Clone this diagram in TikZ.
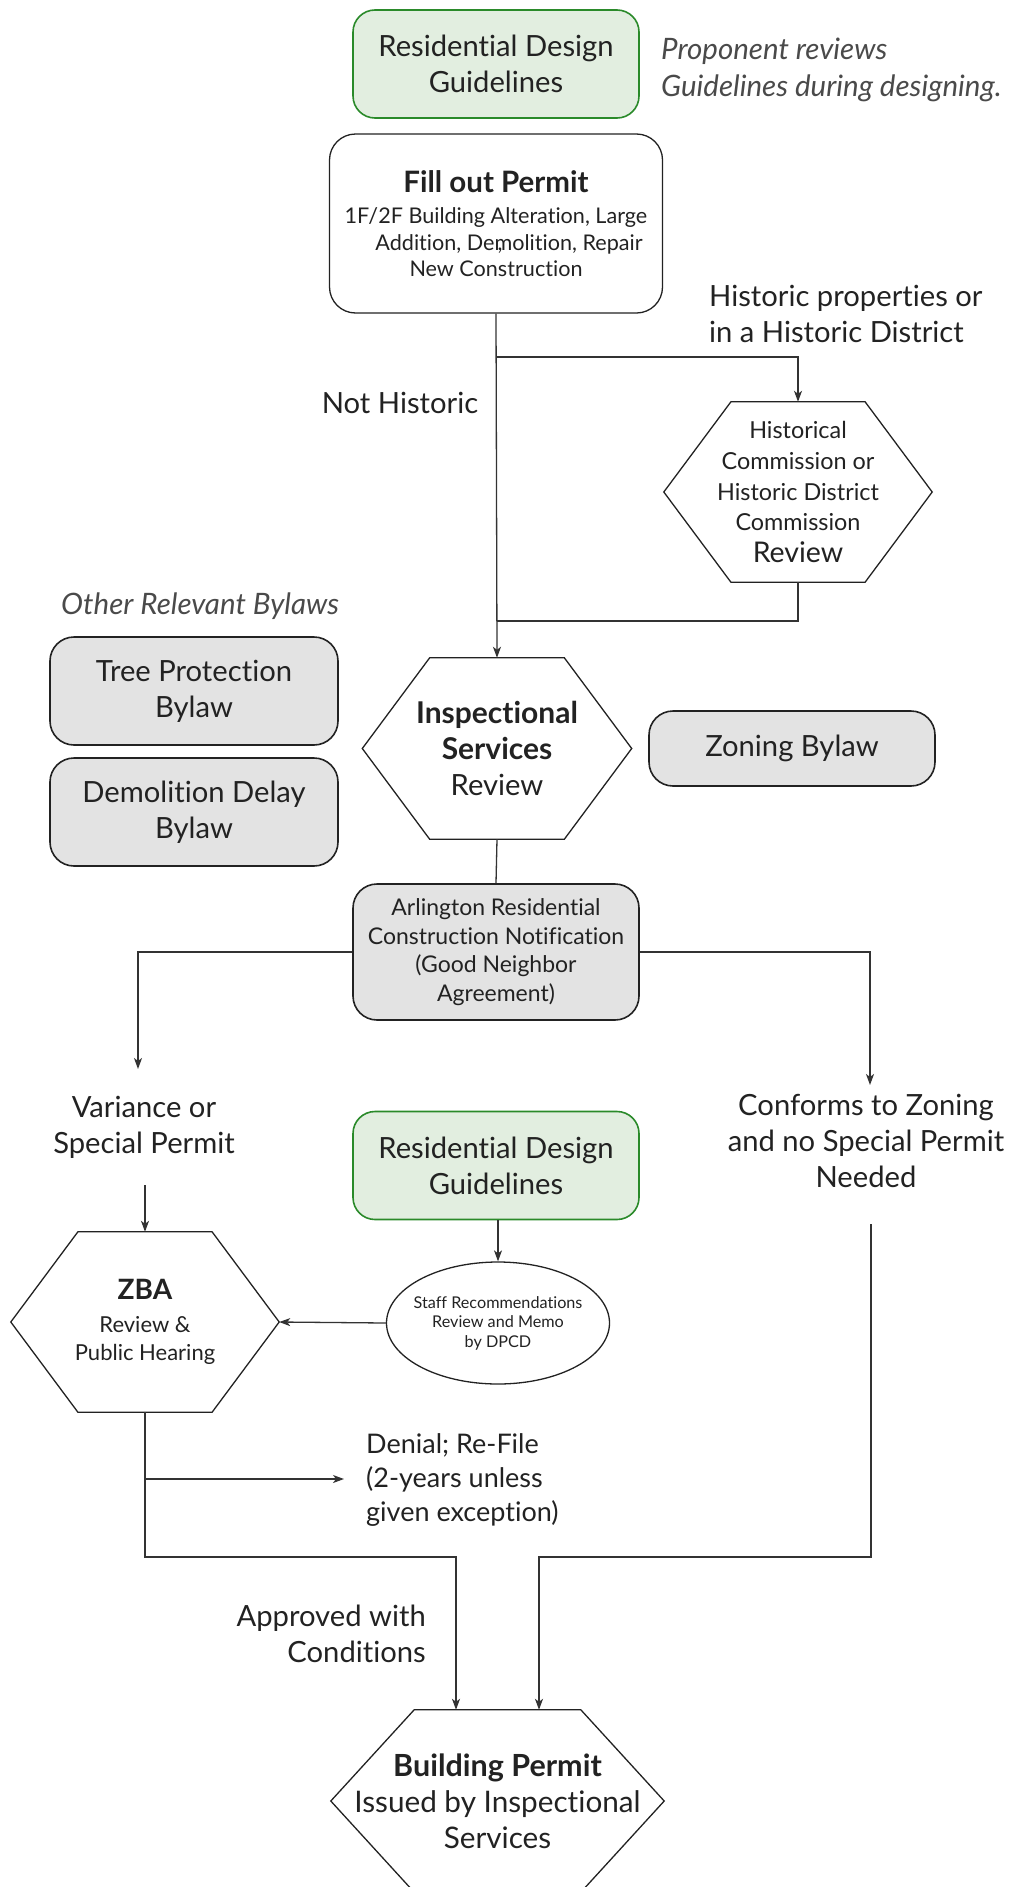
\documentclass[tikz,border=0pt]{standalone}
\usepackage{fontspec}
\setmainfont{Lato}[Ligatures=NoCommon]
\usetikzlibrary{arrows.meta,shapes.geometric,calc}
\definecolor{ink}{HTML}{222222}
\definecolor{linec}{HTML}{333333}
\definecolor{notec}{HTML}{4A4A4A}
\definecolor{gfill}{HTML}{E2EEE0}
\definecolor{gdraw}{HTML}{2A8A2A}
\definecolor{boxgray}{HTML}{E3E3E3}
\newcommand{\fbig}{\fontsize{29.2}{36}\selectfont}
\newcommand{\fmed}{\fontsize{21.6}{26.5}\selectfont}
\newcommand{\hexframe}[1]{\draw[hexline] (#1.west) -- ($(#1.north west)!0.25!(#1.north east)$) -- ($(#1.north west)!0.75!(#1.north east)$) -- (#1.east) -- ($(#1.south west)!0.75!(#1.south east)$) -- ($(#1.south west)!0.25!(#1.south east)$) -- cycle;}
\tikzset{
  every node/.style={text=ink, align=center, inner sep=0pt},
  greenbox/.style={draw=gdraw, fill=gfill, line width=1.6pt, rounded corners=22pt, minimum width=286pt, minimum height=108pt, font=\fbig},
  graybox/.style={draw=ink, fill=boxgray, line width=1.6pt, rounded corners=24pt},
  whitebox/.style={draw=ink, line width=1.3pt, rounded corners=26pt},
  hexbox/.style={minimum width=#1},
  hexline/.style={draw=ink, line width=1.3pt},
  plain/.style={font=\fbig},
  note/.style={font=\fontsize{29.5}{37}\selectfont\itshape, text=notec, align=left, anchor=west},
  conn/.style={draw=linec, line width=1.3pt},
  arr/.style={conn, -{Stealth[length=11pt,width=8pt,inset=3pt]}}
}
\begin{document}
\begin{tikzpicture}[x=1pt,y=-1pt]
\useasboundingbox (0,0) rectangle (1012,1887);
% top
\node[greenbox] (rdg1) at (496,64) {Residential Design\\Guidelines};
\node[note] (note1) at (661,70) {Proponent reviews\\Guidelines during designing.};
\node[whitebox, minimum width=333pt, minimum height=179pt, font=\fmed] (permit) at (496,223.5)
  {{\fontsize{29.5}{30}\selectfont\bfseries Fill out Permit}\\[5pt]1F/2F Building Alteration, Large\\\hspace*{26pt}Addition, De\rlap{\kern3pt,}molition, Repair\\New Construction};
\node[plain, align=left, anchor=west] (histlab) at (709,314) {Historic properties or\\in a Historic District};
\node[plain] (nothist) at (400,403) {Not Historic};
\node[hexbox=268pt, minimum height=180pt, font=\fontsize{23.4}{30.7}\selectfont] (hist) at (798,492)
  {Historical\\Commission or\\Historic District\\Commission\\[1pt]{\fontsize{28.5}{30}\selectfont Review}};
\hexframe{hist}
% bylaws
\node[note] (other) at (61,606) {Other Relevant Bylaws};
\node[graybox, minimum width=288pt, minimum height=108pt, font=\fbig] (tree) at (194,691) {Tree Protection\\Bylaw};
\node[graybox, minimum width=288pt, minimum height=108pt, font=\fbig] (demo) at (194,812) {Demolition Delay\\Bylaw};
\node[hexbox=269pt, minimum height=181pt, font=\fbig] (insp) at (497,748.5) {{\fontsize{30}{36}\selectfont\bfseries Inspectional}\\{\fontsize{30}{36}\selectfont\bfseries Services}\\Review};
\hexframe{insp}
\node[graybox, minimum width=286pt, minimum height=75pt, font=\fbig] (zoning) at (792,748.5) {Zoning Bylaw};
\node[graybox, minimum width=286pt, minimum height=136pt, font=\fontsize{23}{28.5}\selectfont] (arl) at (496,952)
  {Arlington Residential\\Construction Notification\\(Good Neighbor\\Agreement)};
% middle
\node[plain] (var) at (144,1127) {Variance or\\Special Permit};
\node[plain] (conf) at (866,1141) {Conforms to Zoning\\and no Special Permit\\Needed};
\node[greenbox] (rdg2) at (496,1165.5) {Residential Design\\Guidelines};
\node[ellipse, draw=ink, line width=1.3pt, inner xsep=-6pt, minimum width=223pt, minimum height=122pt, font=\fontsize{16.2}{19.5}\selectfont] (staff) at (498,1323)
  {Staff Recommendations\\Review and Memo\\by DPCD};
\node[hexbox=268pt, minimum height=180pt, font=\fontsize{22}{28}\selectfont] (zba) at (145,1322)
  {{\fontsize{28}{30}\selectfont\bfseries ZBA}\\[5pt]Review \&\\Public Hearing};
\hexframe{zba}
\node[font=\fontsize{27}{34}\selectfont, align=left, anchor=west] (denial) at (366,1480) {Denial; Re-File\\(2-years unless\\given exception)};
\node[plain, align=right, anchor=east] (appr) at (426,1634) {Approved with\\Conditions};
\node[hexbox=333pt, minimum height=182pt, font=\fontsize{29.7}{36}\selectfont] (bp) at (497.5,1801)
  {{\fontsize{30.5}{36}\selectfont\bfseries Building Permit}\\Issued by Inspectional\\Services};
\hexframe{bp}
% connectors
\coordinate (b1) at (497,357);
\coordinate (b2) at (497,621);
\draw[arr] (permit.south) -- (insp.north);
\draw[arr] (b1) -| (hist.north);
\draw[conn] (hist.south) |- (b2);
\draw[conn] (insp.south) -- (arl.north);
\coordinate (vend) at (138,1069);
\coordinate (cend) at (870,1085);
\draw[arr] (arl.west) -| (vend);
\draw[arr] (arl.east) -| (cend);
\coordinate (vstart) at (145,1185);
\draw[arr] (vstart) -- (zba.north);
\draw[arr] (staff.north |- rdg2.south) -- (staff.north);
\draw[arr] (staff.west) -- (zba.east);
\coordinate (bl) at (456,1557);
\draw[arr] (zba.south) |- (bl) -- (bl |- bp.north);
\coordinate (db) at (145,1479);
\coordinate (dend) at (344,1479);
\draw[arr] (db) -- (dend);
\coordinate (cstart) at (871,1224);
\coordinate (br) at (539,1557);
\draw[arr] (cstart) |- (br) -- (br |- bp.north);
\end{tikzpicture}
\end{document}
